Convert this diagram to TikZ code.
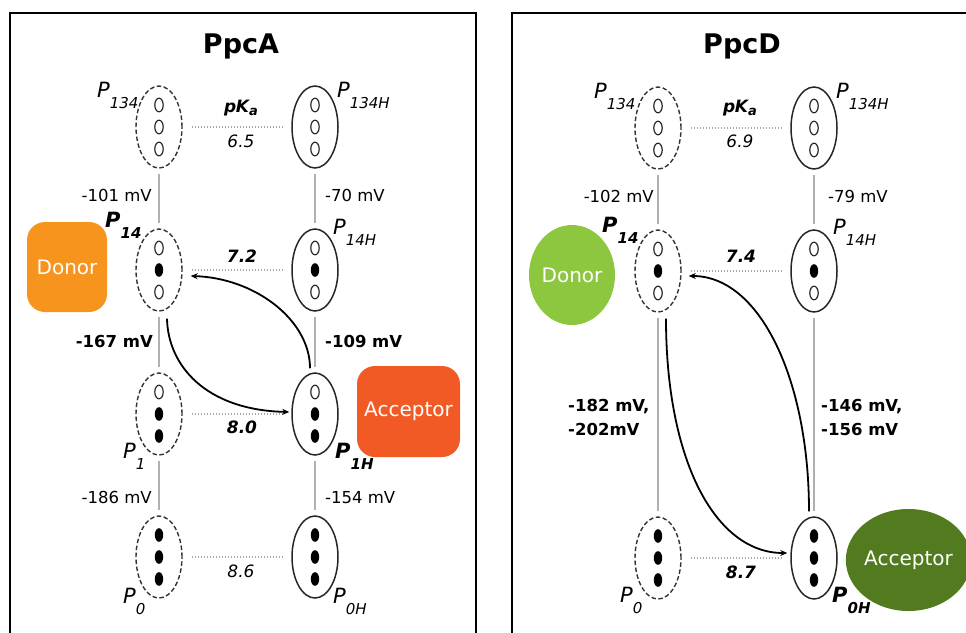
\documentclass[tikz,border=0pt]{standalone}
\usepackage{fontspec}
\setmainfont{DejaVu Sans}
\usetikzlibrary{shapes.geometric,arrows.meta}

\definecolor{donorA}{HTML}{F7941D}
\definecolor{accA}{HTML}{F15A24}
\definecolor{donorD}{HTML}{8DC63F}
\definecolor{accD}{HTML}{517B1E}
\definecolor{linkgray}{HTML}{B0B0B0}
\definecolor{dotgray}{HTML}{A8A8A8}

% state label: P with a lowered subscript
\newcommand\stl[2]{#1\raisebox{-11pt}{\fontsize{15}{15}\selectfont #2}}
% three heme marks inside a state node
\newcommand\hemes[2]{\foreach \dy/\k in {#2}{\path[\k] (#1) ++(0,\dy) ellipse [x radius=4.2, y radius=6.8];}}

\begin{document}
\begin{tikzpicture}[x=1pt,y=-1pt,
  panel/.style={draw=black,line width=2pt},
  ptitle/.style={font=\fontsize{27}{27}\selectfont\bfseries,anchor=base,inner sep=0},
  stox/.style={ellipse,draw=black!80,line width=1.4pt,dash pattern=on 4.5pt off 2.5pt,minimum width=46pt,minimum height=82pt,inner sep=0},
  stred/.style={ellipse,draw=black!85,line width=1.5pt,minimum width=46pt,minimum height=82pt,inner sep=0},
  ho/.style={draw=black!85,line width=1.2pt},
  hf/.style={fill=black},
  redox/.style={draw=linkgray,line width=2pt},
  prot/.style={draw=dotgray,line width=1.6pt,dash pattern=on 1.6pt off 1.4pt},
  xfer/.style={draw=black,line width=1.8pt,-{Stealth[length=7pt,width=6pt]}},
  mv/.style={font=\fontsize{16.5}{19}\selectfont,inner sep=0},
  mvb/.style={font=\fontsize{16.5}{19}\selectfont\bfseries,inner sep=0},
  pk/.style={font=\fontsize{17}{19}\selectfont\itshape,inner sep=0,anchor=base},
  pkb/.style={font=\fontsize{17}{19}\selectfont\bfseries\itshape,inner sep=0,anchor=base},
  slab/.style={font=\fontsize{21}{21}\selectfont\itshape,inner sep=0,anchor=base west},
  slabb/.style={font=\fontsize{21}{21}\selectfont\bfseries\itshape,inner sep=0,anchor=base west},
  partner/.style={text=white,font=\fontsize{20}{22}\selectfont,inner sep=0},
  box/.style={partner,rectangle,rounded corners=18pt},
  blob/.style={partner,ellipse}
]
\useasboundingbox (0,0) rectangle (966,632);
\clip (0,0) rectangle (966,632);

% ---------- frames and titles ----------
\draw[panel] (10,13) rectangle (476,660);
\draw[panel] (512,13) rectangle (990,660);
\node[ptitle] (tA) at (241,53) {PpcA};
\node[ptitle] (tD) at (742,53) {PpcD};

% ---------- PpcA states ----------
\node[stox]  (A134)  at (159,127) {};
\node[stred] (A134H) at (315,127) {};
\node[stox]  (A14)   at (159,270) {};
\node[stred] (A14H)  at (315,270) {};
\node[stox]  (A1)    at (159,414) {};
\node[stred] (A1H)   at (315,414) {};
\node[stox]  (A0)    at (159,557) {};
\node[stred] (A0H)   at (315,557) {};

\hemes{A134.center}{-22/ho,0/ho,22/ho}
\hemes{A134H.center}{-22/ho,0/ho,22/ho}
\hemes{A14.center}{-22/ho,0/hf,22/ho}
\hemes{A14H.center}{-22/ho,0/hf,22/ho}
\hemes{A1.center}{-22/ho,0/hf,22/hf}
\hemes{A1H.center}{-22/ho,0/hf,22/hf}
\hemes{A0.center}{-22/hf,0/hf,22/hf}
\hemes{A0H.center}{-22/hf,0/hf,22/hf}

% ---------- PpcD states ----------
\node[stox]  (D134)  at (658,128) {};
\node[stred] (D134H) at (814,128) {};
\node[stox]  (D14)   at (658,271) {};
\node[stred] (D14H)  at (814,271) {};
\node[stox]  (D0)    at (658,558) {};
\node[stred] (D0H)   at (814,558) {};

\hemes{D134.center}{-22/ho,0/ho,22/ho}
\hemes{D134H.center}{-22/ho,0/ho,22/ho}
\hemes{D14.center}{-22/ho,0/hf,22/ho}
\hemes{D14H.center}{-22/ho,0/hf,22/ho}
\hemes{D0.center}{-22/hf,0/hf,22/hf}
\hemes{D0H.center}{-22/hf,0/hf,22/hf}

% ---------- redox steps (vertical) ----------
\draw[redox] ([yshift=-5pt]A134.south)  -- ([yshift=5pt]A14.north);
\draw[redox] ([yshift=-5pt]A134H.south) -- ([yshift=5pt]A14H.north);
\draw[redox] ([yshift=-5pt]A14.south)   -- ([yshift=5pt]A1.north);
\draw[redox] ([yshift=-5pt]A14H.south)  -- ([yshift=5pt]A1H.north);
\draw[redox] ([yshift=-5pt]A1.south)    -- ([yshift=5pt]A0.north);
\draw[redox] ([yshift=-5pt]A1H.south)   -- ([yshift=5pt]A0H.north);
\draw[redox] ([yshift=-5pt]D134.south)  -- ([yshift=5pt]D14.north);
\draw[redox] ([yshift=-5pt]D134H.south) -- ([yshift=5pt]D14H.north);
\draw[redox] ([yshift=-5pt]D14.south)   -- ([yshift=5pt]D0.north);
\draw[redox] ([yshift=-5pt]D14H.south)  -- ([yshift=5pt]D0H.north);

% ---------- protonation equilibria (horizontal) ----------
\foreach \a in {A134,A14,A1,A0,D134,D14,D0}
  \draw[prot] ([xshift=9pt]\a.east) -- ([xshift=-9pt]\a H.west);

% ---------- electron transfer arrows ----------
\draw[xfer] ([xshift=8pt,yshift=-7pt]A14.south) .. controls (168,365) and (205,410) .. ([xshift=-2pt,yshift=2pt]A1H.west);
\draw[xfer] ([xshift=-5pt,yshift=4pt]A1H.north) .. controls (310,320) and (255,278) .. ([xshift=8pt,yshift=-6pt]A14.east);
\draw[xfer] ([xshift=8pt,yshift=-6pt]D14.south) .. controls (666,460) and (715,553) .. ([xshift=-3pt,yshift=5pt]D0H.west);
\draw[xfer] ([xshift=-5pt,yshift=5pt]D0H.north) .. controls (809,380) and (760,276) .. ([xshift=7pt,yshift=-5pt]D14.east);

% ---------- donor / acceptor partners ----------
\node[box,fill=donorA,minimum width=80pt,minimum height=90pt] (donA) at (67,267) {Donor};
\node[box,fill=accA,minimum width=103pt,minimum height=91pt] (accA) at (408.5,411.5) {Acceptor};
\node[blob,fill=donorD,minimum width=86pt,minimum height=100pt] (donD) at (572,275) {Donor};
\node[blob,fill=accD,minimum width=111pt,minimum height=102pt] (accD) at (908.5,560) {Acceptor};

% ---------- state labels ----------
\node[slab]  (lA134)  at (97,97)   {\stl{P}{134}};
\node[slab]  (lA134H) at (337,97)  {\stl{P}{134H}};
\node[slabb] (lA14)   at (105,227) {\stl{P}{14}};
\node[slab]  (lA14H)  at (333,234) {\stl{P}{14H}};
\node[slab]  (lA1)    at (123,458) {\stl{P}{1}};
\node[slabb] (lA1H)   at (335,458) {\stl{P}{1H}};
\node[slab]  (lA0)    at (123,603) {\stl{P}{0}};
\node[slab]  (lA0H)   at (333,603) {\stl{P}{0H}};

\node[slab]  (lD134)  at (594,98)  {\stl{P}{134}};
\node[slab]  (lD134H) at (836,98)  {\stl{P}{134H}};
\node[slabb] (lD14)   at (602,232) {\stl{P}{14}};
\node[slab]  (lD14H)  at (833,234) {\stl{P}{14H}};
\node[slab]  (lD0)    at (620,602) {\stl{P}{0}};
\node[slabb] (lD0H)   at (832,602) {\stl{P}{0H}};

% ---------- pKa values ----------
\node[pkb] (pkA) at (241,112) {p\kern-0.5ptK\raisebox{-3pt}{\fontsize{13}{13}\selectfont a}};
\node[pk]  (kA1) at (241,147) {6.5};
\node[pkb] (kA2) at (242,262) {7.2};
\node[pkb] (kA3) at (242,433) {8.0};
\node[pk]  (kA4) at (241,577) {8.6};

\node[pkb] (pkD) at (740,112) {p\kern-0.5ptK\raisebox{-3pt}{\fontsize{13}{13}\selectfont a}};
\node[pk]  (kD1) at (740,147) {6.9};
\node[pkb] (kD2) at (741,262) {7.4};
\node[pkb] (kD4) at (741,578) {8.7};

% ---------- reduction potentials ----------
\node[mv,anchor=base east]  (eA1) at (152,201) {-101 mV};
\node[mv,anchor=base west]  (eA2) at (325,201) {-70 mV};
\node[mvb,anchor=base east] (eA3) at (153,347) {-167 mV};
\node[mvb,anchor=base west] (eA4) at (325,347) {-109 mV};
\node[mv,anchor=base east]  (eA5) at (152,503) {-186 mV};
\node[mv,anchor=base west]  (eA6) at (325,503) {-154 mV};

\node[mv,anchor=base east]  (eD1) at (654,202) {-102 mV};
\node[mv,anchor=base west]  (eD2) at (828,202) {-79 mV};
\node[mvb,anchor=base west] (eD3) at (568,411) {-182 mV,};
\node[mvb,anchor=base west] (eD4) at (568,435) {-202mV};
\node[mvb,anchor=base west] (eD5) at (821,411) {-146 mV,};
\node[mvb,anchor=base west] (eD6) at (821,435) {-156 mV};
\end{tikzpicture}
\end{document}
